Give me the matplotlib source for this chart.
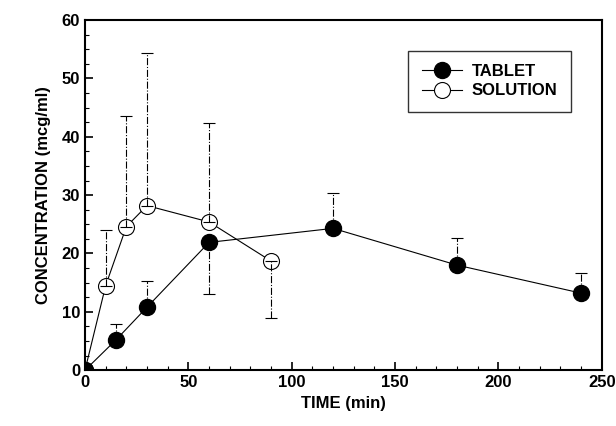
import numpy as np
import matplotlib
matplotlib.use('Agg')
import matplotlib.pyplot as plt
from matplotlib.ticker import MultipleLocator

plt.rcParams['font.family'] = ['Liberation Sans', 'DejaVu Sans']
plt.rcParams['font.weight'] = 'bold'

# 数据：时间 (min) 与浓度 (mcg/ml)，误差棒上下端
tablet_t = [0, 15, 30, 60, 120, 180, 240]
tablet_c = [0, 5.2, 10.8, 21.9, 24.3, 18.0, 13.2]
tablet_hi = [0, 2.8, 4.5, 0, 6.1, 4.7, 3.4]
tablet_lo = [0, 0, 0, 8.9, 0, 0, 0]

sol_t = [0, 10, 20, 30, 60, 90]
sol_c = [0, 14.5, 24.6, 28.2, 25.4, 18.7]
sol_hi = [0, 9.5, 19.0, 26.1, 16.9, 0]
sol_lo = [0, 0, 0, 0, 0, 9.7]

fig = plt.figure(figsize=(6.16, 4.26), dpi=100)
ax = fig.add_axes([0.138, 0.131, 0.839, 0.822])

# 误差棒（点划线）
for t, c, lo, hi, z in [(tablet_t, tablet_c, tablet_lo, tablet_hi, 2),
                        (sol_t, sol_c, sol_lo, sol_hi, 4)]:
    eb = ax.errorbar(t, c, yerr=[lo, hi], fmt='none', ecolor='black',
                     elinewidth=0.8, capsize=4, capthick=0.8, zorder=z)
    for b in eb[2]:
        b.set_linestyle('-.')

ax.plot(tablet_t, tablet_c, '-', color='black', lw=0.8, marker='o',
        markersize=11.5, markerfacecolor='black', markeredgecolor='black',
        label='TABLET', zorder=3.5)
ax.plot(sol_t, sol_c, '-', color='black', lw=0.8, marker='o',
        markersize=11.5, markerfacecolor='white', markeredgecolor='black',
        markeredgewidth=0.8, label='SOLUTION', zorder=3)

ax.set_xlim(0, 250)
ax.set_ylim(0, 60)
ax.xaxis.set_major_locator(MultipleLocator(50))
ax.xaxis.set_minor_locator(MultipleLocator(10))
ax.yaxis.set_major_locator(MultipleLocator(10))
ax.yaxis.set_minor_locator(MultipleLocator(2.5))
ax.tick_params(which='both', direction='in', labelsize=12)
ax.tick_params(which='major', length=6, width=1.2)
ax.tick_params(which='minor', length=3, width=0.8)
for s in ax.spines.values():
    s.set_linewidth(1.5)

ax.set_xlabel('TIME (min)', fontsize=12, fontweight='bold', labelpad=4)
ax.set_ylabel('CONCENTRATION (mcg/ml)', fontsize=12, fontweight='bold', labelpad=8)

leg = ax.legend(loc='upper right', bbox_to_anchor=(0.94, 0.912), fontsize=12,
                frameon=True, fancybox=False, edgecolor='black',
                handlelength=2.4, handletextpad=0.6, borderpad=0.8,
                labelspacing=0.25, borderaxespad=0)
leg.get_frame().set_linewidth(1.0)

plt.savefig('out.png', dpi=100)
